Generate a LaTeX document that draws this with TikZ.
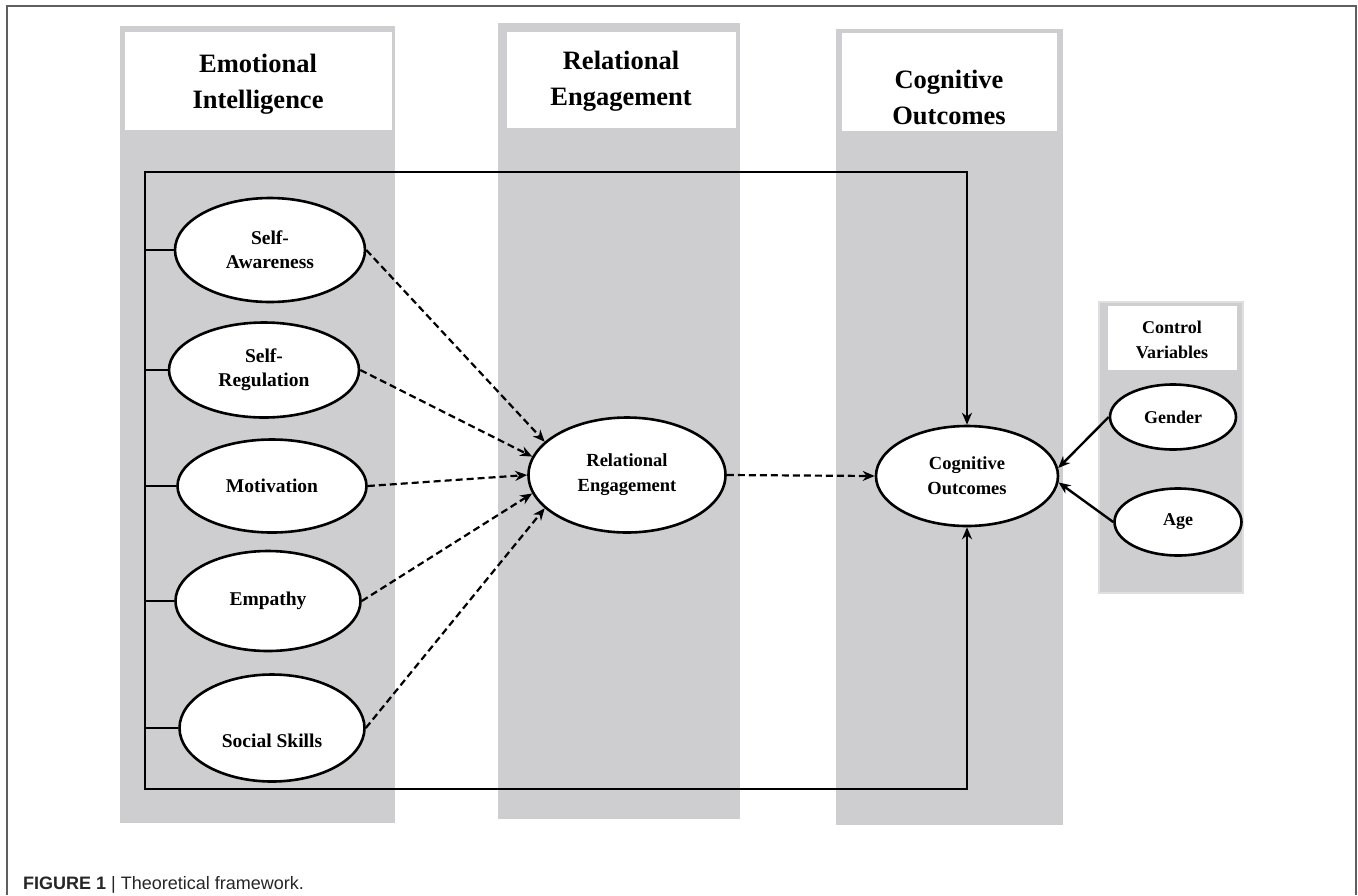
\documentclass[tikz,border=0pt]{standalone}
\usepackage{fontspec}
\setmainfont{Liberation Serif}
\newfontfamily\capfont{Liberation Sans}
\usetikzlibrary{shapes.geometric,arrows.meta}
\definecolor{colgray}{RGB}{206,205,207}
\definecolor{framegray}{RGB}{95,95,95}
\begin{document}
\begin{tikzpicture}[x=1pt,y=-1pt,
  heading/.style={align=center, inner sep=0pt, font=\fontsize{26.5}{36}\selectfont\bfseries},
  ell/.style={ellipse, draw=black, line width=2.6pt, fill=white, inner sep=0pt, align=center,
              font=\fontsize{19.5}{24}\selectfont\bfseries},
  bigell/.style={ell, font=\fontsize{18.5}{25}\selectfont\bfseries},
  smallell/.style={ell, font=\fontsize{18}{24}\selectfont\bfseries},
  solidline/.style={line width=2.4pt, draw=black, line join=miter},
  tip/.style={-{Stealth[length=12pt,width=10pt]}},
  solidarrow/.style={solidline, tip},
  dasharrow/.style={line width=2.2pt, dash pattern=on 7pt off 4pt, tip}
]
\useasboundingbox (0,0) rectangle (1358,895);
\fill[white] (0,0) rectangle (1358,895);
% page frame
\draw[framegray, line width=2pt] (7,895) -- (7,6) -- (1356,6) -- (1356,895);
% columns
\fill[colgray] (120,26) rectangle (395,823);
\fill[white] (125,32) rectangle (392,130);
\fill[colgray] (498,23) rectangle (740,819);
\fill[white] (507,32) rectangle (736,128);
\fill[colgray] (836,29) rectangle (1063,825);
\fill[white] (842,33) rectangle (1057,131);
\node[heading] (h1) at (258,84) {Emotional\\Intelligence};
\node[heading] (h2) at (621,81) {Relational\\Engagement};
\node[heading] (h3) at (949,97) {Cognitive\\Outcomes};
% control variables box
\filldraw[fill=colgray, draw=gray!25, line width=2pt] (1099,302) rectangle (1243,593);
\fill[white] (1108,306) rectangle (1237,370);
\node[align=center, inner sep=0pt, font=\fontsize{18}{25}\selectfont\bfseries] (hc) at (1172,340) {Control\\Variables};
% ellipses
\node[ell, minimum width=190pt, minimum height=104pt] (SA) at (270,250) {Self-\\Awareness};
\node[ell, minimum width=190pt, minimum height=95pt] (SR) at (264,370) {Self-\\Regulation};
\node[ell, minimum width=189pt, minimum height=93pt] (MO) at (272,486) {Motivation};
\node[ell, minimum width=185pt, minimum height=100pt] (EM) at (268,601) {Empathy};
\node[ell, minimum width=185pt, minimum height=107pt] (SS) at (272,728) {\smash{\raisebox{-19pt}{Social Skills}}};
\node[bigell, minimum width=197pt, minimum height=115pt] (RE) at (627,475) {Relational\\Engagement};
\node[bigell, minimum width=182pt, minimum height=100pt] (CO) at (967,476) {Cognitive\\Outcomes};
\node[smallell, minimum width=126pt, minimum height=65pt] (GE) at (1173,417) {Gender};
\node[smallell, minimum width=127pt, minimum height=67pt] (AG) at (1178,522) {Age};
% bracket
\coordinate (bt) at (145,172);
\coordinate (bb) at (145,789);
\draw[solidline, {Stealth[length=12pt,width=10pt]}-{Stealth[length=12pt,width=10pt]}]
  (CO.north) -- (CO.north |- bt) -- (bt) -- (bb) -- (bb -| CO.south) -- (CO.south);
\foreach \n in {SA,SR,MO,EM,SS}{
  \draw[solidline] (\n.west -| bt) -- (\n.west);
}
% dashed paths
\draw[dasharrow] (SA.east) -- (RE.158);
\draw[dasharrow] (SR.east) -- (RE.169);
\draw[dasharrow] (MO.east) -- (RE.180);
\draw[dasharrow] (EM.east) -- (RE.191);
\draw[dasharrow] (SS.east) -- (RE.202);
\draw[dasharrow] (RE.east) -- (CO.west);
% control arrows
\draw[solidarrow] (GE.west) -- (CO.5);
\draw[solidarrow] (AG.west) -- (CO.-4);
% caption
\node[anchor=base west, inner sep=0pt, text=black!85, font=\capfont\fontsize{18}{22}\selectfont] (cap) at (23,889)
  {\textbf{FIGURE 1} | Theoretical framework.};
\end{tikzpicture}
\end{document}
